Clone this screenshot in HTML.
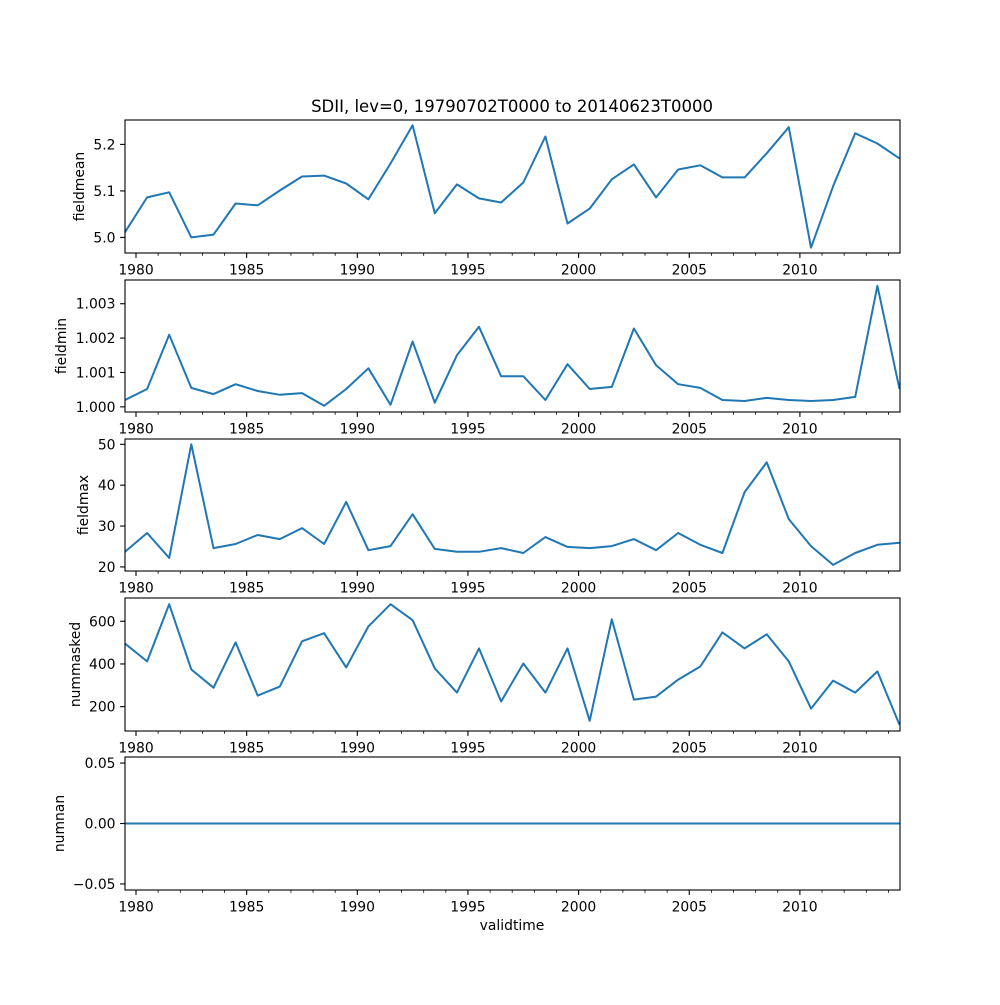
<!DOCTYPE html>
<html><head><meta charset="utf-8"><style>
body{margin:0;background:#fff;}
svg text{font-family:"DejaVu Sans","Liberation Sans",sans-serif;fill:#000;}
</style></head><body>
<svg id="fig" width="1000" height="1000" xmlns="http://www.w3.org/2000/svg">
<rect width="1000" height="1000" fill="#fff"/>
<text x="512" y="112" font-size="16.5" text-anchor="middle">SDII, lev=0, 19790702T0000 to 20140623T0000</text>
<text x="512" y="930" font-size="13.9" text-anchor="middle">validtime</text>
</svg>
<script>
const years = [1979,1980,1981,1982,1983,1984,1985,1986,1987,1988,1989,1990,1991,1992,1993,1994,1995,1996,1997,1998,1999,2000,2001,2002,2003,2004,2005,2006,2007,2008,2009,2010,2011,2012,2013,2014];
const fieldmean = [5.011,5.086,5.097,5.000,5.006,5.073,5.069,5.101,5.131,5.133,5.116,5.082,5.159,5.241,5.052,5.114,5.084,5.075,5.118,5.217,5.030,5.062,5.125,5.157,5.086,5.146,5.155,5.129,5.129,5.181,5.237,4.978,5.110,5.224,5.202,5.170];
const fieldmin = [1.0002,1.00052,1.0021,1.00055,1.00037,1.00066,1.00046,1.00035,1.0004,1.00003,1.00052,1.00112,1.00006,1.0019,1.00012,1.0015,1.00233,1.00089,1.00089,1.0002,1.00124,1.00052,1.00058,1.00228,1.00121,1.00066,1.00055,1.0002,1.00017,1.00026,1.0002,1.00017,1.0002,1.00029,1.00352,1.00052];
const fieldmax = [23.7,28.3,22.2,50,24.6,25.6,27.8,26.8,29.5,25.6,35.9,24.1,25.1,32.9,24.4,23.7,23.7,24.6,23.4,27.3,24.9,24.6,25.1,26.8,24.1,28.3,25.4,23.4,38.3,45.6,31.7,25.1,20.5,23.4,25.4,25.9];
const nummasked = [496,412,680,374,289,501,252,294,506,544,384,576,680,605,379,266,473,224,402,266,473,134,609,233,247,327,388,548,473,539,412,191,322,266,365,115];
const numnan = years.map(()=>0);
const xTicks = [1980,1985,1990,1995,2000,2005,2010];

const NS="http://www.w3.org/2000/svg";
const svg=document.getElementById('fig');
const L=125,R=900;
function xs(t){return 136+(t-1980)*22.13;}
function mk(tag,attrs,parent){const e=document.createElementNS(NS,tag);for(const k in attrs)e.setAttribute(k,attrs[k]);(parent||svg).appendChild(e);return e;}

const panels=[
 {name:'fieldmean',data:fieldmean,top:120,bot:253,ymin:4.9665,ymax:5.2525,ticks:[5.0,5.1,5.2],fmt:v=>v.toFixed(1),lx:84},
 {name:'fieldmin',data:fieldmin,top:280,bot:412,ymin:0.99985,ymax:1.00369,ticks:[1.000,1.001,1.002,1.003],fmt:v=>v.toFixed(3),lx:66},
 {name:'fieldmax',data:fieldmax,top:439,bot:571,ymin:19.0,ymax:51.3,ticks:[20,30,40,50],fmt:v=>String(v),lx:88},
 {name:'nummasked',data:nummasked,top:598,bot:731,ymin:86,ymax:709,ticks:[200,400,600],fmt:v=>String(v),lx:80},
 {name:'numnan',data:numnan,top:757,bot:890,ymin:-0.055,ymax:0.055,ticks:[-0.05,0.00,0.05],fmt:v=>(v<0?'\u22120.05':v.toFixed(2)),lx:64}
];
panels.forEach(p=>{
 const g=mk('g',{});
 
 
 const ys=v=>p.bot-(v-p.ymin)/(p.ymax-p.ymin)*(p.bot-p.top);
 const pts=p.data.map((v,i)=>xs(years[i]+0.5).toFixed(1)+','+ys(v).toFixed(1)).join(' ');
 const line=mk('polyline',{points:pts,fill:'none',stroke:'#1f77b4','stroke-width':2,'stroke-linejoin':'round','stroke-linecap':'butt'},g);
 
 
 const fr=mk('rect',{x:L,y:p.top,width:R-L,height:p.bot-p.top,fill:'none',stroke:'#000','stroke-width':1.1},g);
 
 
 p.ticks.forEach(t=>{
  const y=ys(t);
  mk('line',{x1:L-4.9,x2:L,y1:y,y2:y,stroke:'#000','stroke-width':1.1},g);
  const tx=mk('text',{x:L-9.5,y:y+5,'font-size':13.9,'text-anchor':'end'},g);
  tx.textContent=p.fmt(t);
  
  
 });
 for(let yr=1980;yr<=2014;yr++){
  const x=xs(yr);
  const major=xTicks.includes(yr);
  mk('line',{x1:x,x2:x,y1:p.bot,y2:p.bot+(major?4.9:2.8),stroke:'#000','stroke-width':major?1.1:0.8},g);
 }
 xTicks.forEach(t=>{
  const tx=mk('text',{x:xs(t),y:p.bot+21.5,'font-size':13.9,'text-anchor':'middle'},g);
  tx.textContent=t;
  
  
 });
 const cy=(p.top+p.bot)/2;
 const lab=mk('text',{x:p.lx,y:cy,'font-size':13.9,'text-anchor':'middle',transform:'rotate(-90 '+p.lx+' '+cy+')'},g);
 lab.textContent=p.name;
 
 
});
</script>
</body></html>
